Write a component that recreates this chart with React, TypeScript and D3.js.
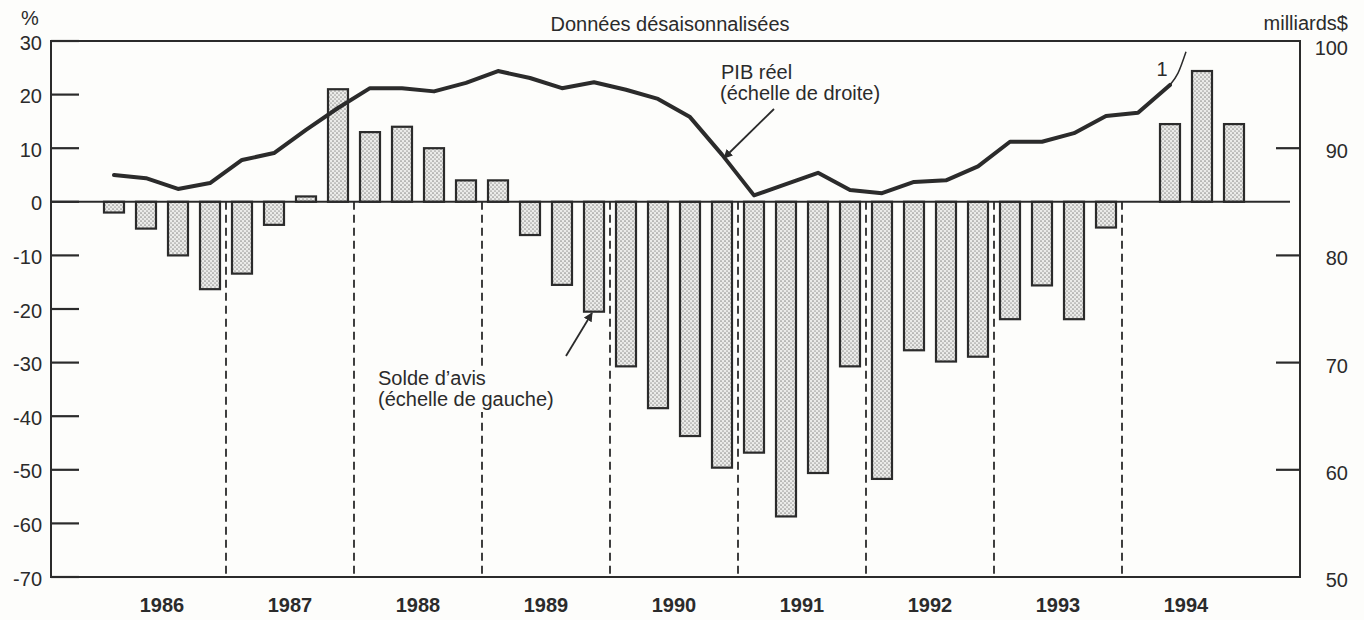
import React from "react";
import * as d3 from "d3";

// Quarterly data, 1986Q1 .. 1994Q4
const years = ["1986", "1987", "1988", "1989", "1990", "1991", "1992", "1993", "1994"];
const leftTicks = [30, 20, 10, 0, -10, -20, -30, -40, -50, -60, -70];
const rightTicks = [100, 90, 80, 70, 60, 50];

// Solde d'avis (%), left scale
const soldeAvis: (number | null)[] = [
  -2, -5, -10, -16.3,
  -13.4, -4.3, 1, 21,
  13, 14, 10, 4,
  4, -6.2, -15.5, -20.5,
  -30.7, -38.5, -43.7, -49.6,
  -46.8, -58.7, -50.6, -30.7,
  -51.7, -27.7, -29.8, -28.9,
  -21.9, -15.6, -21.9, -4.8,
  null, 14.5, 24.4, 14.5,
];

// PIB réel (milliards $), right scale
const pibReel: number[] = [
  87.5, 87.2, 86.2, 86.75,
  88.9, 89.55, 91.7, 93.75,
  95.6, 95.6, 95.3, 96.1,
  97.2, 96.55, 95.6, 96.15,
  95.45, 94.6, 92.9, 89.4,
  85.6, 86.65, 87.7, 86.1,
  85.8, 86.85, 87.0, 88.3,
  90.6, 90.6, 91.4, 93.0,
  93.3, 95.9,
];
// Footnote (1) projection segment: [quarter index, value]
const pibProjection: [number, number][] = [
  [33, 95.9],
  [33.25, 97.0],
  [33.5, 99.0],
];

const W = 1364;
const H = 620;
const ink = "#2b2b2b";
const bg = "#fdfdfb";
const font = "'Liberation Sans', Arial, Helvetica, sans-serif";
const fs = 20;

export default function App() {
  const plotLeft = 51;
  const plotRight = 1300;
  const plotTop = 41;
  const plotBottom = 577;

  const x = d3.scaleLinear().domain([0, 36]).range([98, 1250]);
  const yL = d3.scaleLinear().domain([-70, 30]).range([plotBottom, plotTop]);
  const yR = d3.scaleLinear().domain([50, 100]).range([plotBottom, plotTop]);
  const barW = 20;

  const line = d3
    .line<number>()
    .x((_, i) => x(i + 0.5))
    .y((d) => yR(d));
  const projLine = d3
    .line<[number, number]>()
    .x((d) => x(d[0] + 0.5))
    .y((d) => yR(d[1]))
    .curve(d3.curveNatural);

  return (
    <svg
      width={W}
      height={H}
      style={{ position: "absolute", left: 0, top: 0, background: bg }}
      fontFamily={font}
    >
      <defs>
        <pattern id="dots" width="4" height="4" patternUnits="userSpaceOnUse">
          <rect width="4" height="4" fill="#ebebe9" />
          <circle cx="1" cy="1" r="0.85" fill="#8f8f8d" />
          <circle cx="3" cy="3" r="0.85" fill="#a0a09e" />
        </pattern>
        <marker id="arrow" viewBox="0 0 10 10" refX="9" refY="5" markerWidth="5" markerHeight="5" orient="auto">
          <path d="M0,0 L10,5 L0,10 z" fill={ink} />
        </marker>
      </defs>

      {/* Titles */}
      <text x={670} y={31} textAnchor="middle" fontSize={fs} fill={ink}>Données désaisonnalisées</text>
      <text x={30} y={25} textAnchor="middle" fontSize={fs} fill={ink}>%</text>
      <text x={1348} y={30} textAnchor="end" fontSize={fs} fill={ink}>milliards$</text>

      {/* Year dashed separators */}
      {d3.range(1, 9).map((k) => (
        <line
          key={"d" + k}
          x1={x(k * 4)}
          x2={x(k * 4)}
          y1={yL(0)}
          y2={plotBottom}
          stroke={ink}
          strokeWidth={1.8}
          strokeDasharray="8,5"
        />
      ))}

      {/* Bars */}
      {soldeAvis.map((v, i) =>
        v === null ? null : (
          <rect
            key={"b" + i}
            x={x(i + 0.5) - barW / 2}
            y={Math.min(yL(v), yL(0))}
            width={barW}
            height={Math.abs(yL(v) - yL(0))}
            fill="url(#dots)"
            stroke={ink}
            strokeWidth={2.2}
          />
        )
      )}

      {/* Zero line */}
      <line x1={plotLeft} x2={1290} y1={yL(0)} y2={yL(0)} stroke={ink} strokeWidth={2} />

      {/* PIB line */}
      <path d={line(pibReel) || ""} fill="none" stroke={ink} strokeWidth={4} strokeLinejoin="round" strokeLinecap="round" />
      <path d={projLine(pibProjection) || ""} fill="none" stroke={ink} strokeWidth={1.5} />
      <text x={1162} y={76} textAnchor="middle" fontSize={fs} fill={ink}>1</text>

      {/* Frame */}
      <rect x={plotLeft} y={plotTop} width={plotRight - plotLeft} height={plotBottom - plotTop} fill="none" stroke={ink} strokeWidth={2} />

      {/* Left axis ticks & labels */}
      {leftTicks.map((t) => (
        <g key={"l" + t}>
          <line x1={plotLeft} x2={plotLeft + 28} y1={yL(t)} y2={yL(t)} stroke={ink} strokeWidth={2.2} />
          <text x={42} y={yL(t) + 8.5} textAnchor="end" fontSize={fs} fill={ink}>{t}</text>
        </g>
      ))}

      {/* Right axis ticks & labels */}
      {rightTicks.map((t) => (
        <g key={"r" + t}>
          {t !== 100 && t !== 50 && (
            <line x1={plotRight - 24} x2={plotRight} y1={yR(t)} y2={yR(t)} stroke={ink} strokeWidth={2.2} />
          )}
          <text x={1348} y={yR(t) + (t === 100 ? 14 : 10)} textAnchor="end" fontSize={fs} fill={ink}>{t}</text>
        </g>
      ))}

      {/* Year labels */}
      {years.map((yv, k) => (
        <text key={yv} x={x(k * 4 + 2)} y={612} textAnchor="middle" fontSize={fs} fontWeight="bold" fill={ink}>{yv}</text>
      ))}

      {/* Annotations */}
      <text x={721} y={79} fontSize={fs} fill={ink}>PIB réel</text>
      <text x={720} y={100} fontSize={fs} fill={ink}>(échelle de droite)</text>
      <line x1={774} x2={724} y1={109} y2={158} stroke={ink} strokeWidth={1.8} markerEnd="url(#arrow)" />

      <rect x={374} y={366} width={184} height={46} fill={bg} />
      <text x={378} y={385} fontSize={fs} fill={ink}>Solde d’avis</text>
      <text x={378} y={406} fontSize={fs} fill={ink}>(échelle de gauche)</text>
      <line x1={566} x2={592} y1={356} y2={313} stroke={ink} strokeWidth={1.8} markerEnd="url(#arrow)" />
    </svg>
  );
}
